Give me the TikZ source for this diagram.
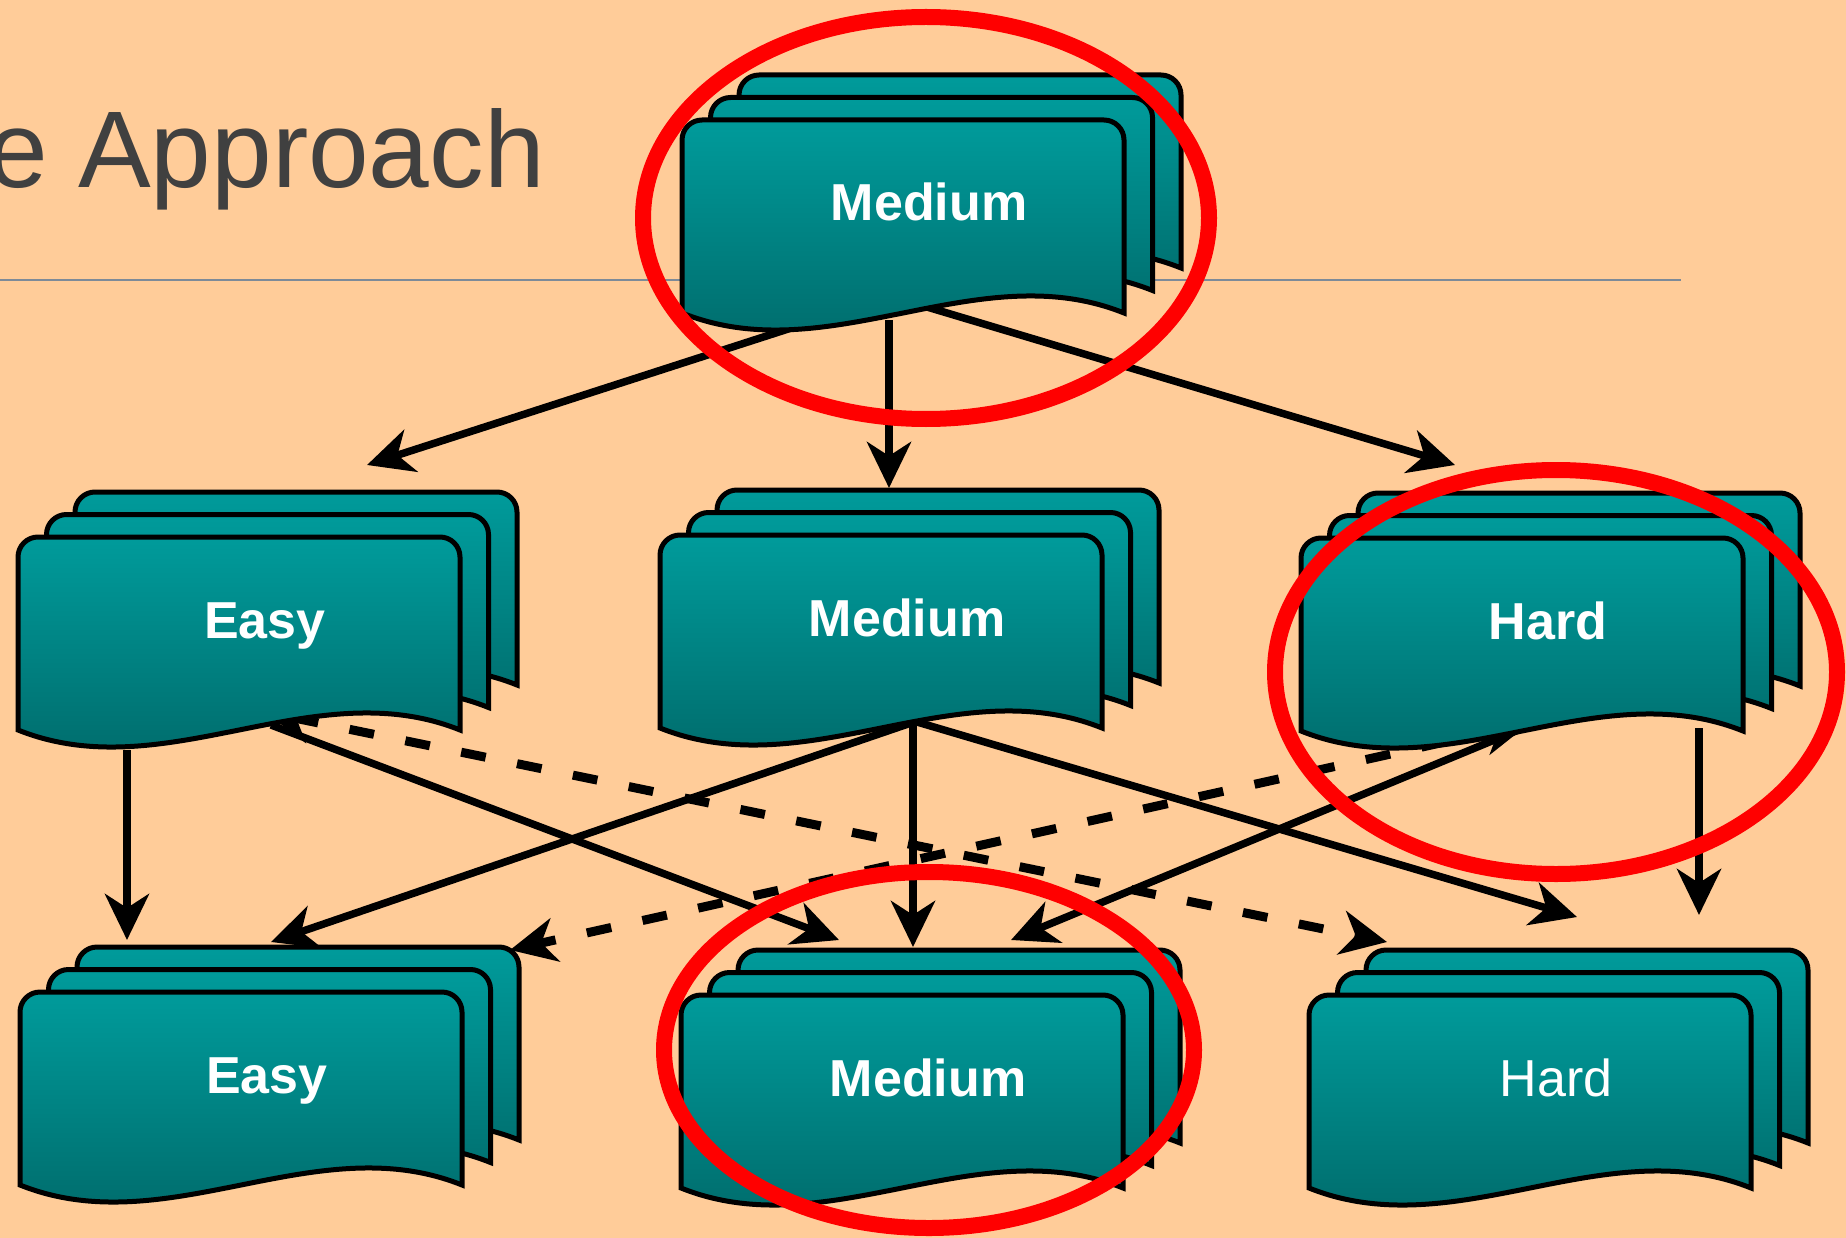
\documentclass[tikz,border=0pt]{standalone}
\usepackage{fontspec}
\setsansfont{Liberation Sans}
\newfontfamily\titlefont{Liberation Sans}
\usetikzlibrary{arrows.meta}

\definecolor{peach}{RGB}{255,204,153}
\definecolor{tealtop}{RGB}{0,155,155}
\definecolor{tealbot}{RGB}{0,102,102}
\definecolor{ink}{RGB}{64,64,64}
\definecolor{rulegray}{RGB}{125,138,152}
\definecolor{ringred}{RGB}{255,0,0}

\pgfdeclarelayer{bg}
\pgfsetlayers{bg,main}

\begin{document}
\begin{tikzpicture}[x=1pt, y=-1pt]

\tikzset{page/.style = {draw, line width=5pt, top color=tealtop, bottom color=tealbot}}
\tikzset{pics/sheet/.style = {code = {
  \path[page] (0,193) -- (0,20) .. controls (0,9) and (9,0) .. (20,0) -- (422,0)
    .. controls (433,0) and (442,9) .. (442,20) -- (442,193)
    .. controls (295,134) and (147,252) .. (0,193) -- cycle;}}}
\tikzset{tag/.style = {text=white, anchor=base, inner sep=0pt}}
\tikzset{heavy/.style = {font=\sffamily\bfseries\fontsize{52}{60}\selectfont}}
\tikzset{light/.style = {font=\sffamily\fontsize{52}{60}\selectfont}}
\tikzset{title/.style = {text=ink, font=\titlefont\fontsize{109}{120}\selectfont, anchor=base east, inner sep=0pt}}
\tikzset{edge/.style = {->, > = {Stealth[length=46pt, width=44pt, inset=14pt]}, line width=7.5pt}}
\tikzset{link/.style = {edge, <->, line width=9pt, dash pattern=on 25pt off 32pt}}
\tikzset{ring/.style = {draw=ringred, line width=16pt}}

\useasboundingbox (0,0) rectangle (1846,1238);

%stacks
\foreach \x/\y/\n/\t/\w in {682/120/mtop/Medium/heavy, 18/537/emid/Easy/heavy,
    660/535/mmid/Medium/heavy, 1301/538/hmid/Hard/heavy, 20/992/ebot/Easy/heavy,
    681/995/mbot/Medium/heavy, 1309/995/hbot/Hard/light}{
  \foreach \k in {2,1,0} \pic at (\x+28.5*\k, \y-22.5*\k) {sheet};
  \node[tag, \w] (\n) at (\x+247, \y+101) {\t};
}

\begin{pgfonlayer}{bg}
\fill[peach] (0,0) rectangle (1846,1238);
\node[title] (ttl) at (545,188) {e Approach};
\draw[rulegray, line width=1.5pt] (0,280) -- (1681,280);

%edges
\draw[edge] ([shift={(-113,99)}]mtop.base) -- ([shift={(102,-173)}]emid.base);
\draw[edge] ([shift={(-40,99)}]mtop.base) -- ([shift={(-18,-148)}]mmid.base);
\draw[edge] ([shift={(-2,86)}]mtop.base) -- ([shift={(-93,-174)}]hmid.base);
\draw[edge] ([shift={(-138,112)}]emid.base) -- ([shift={(-140,-153)}]ebot.base);
\draw[edge] ([shift={(6,87)}]emid.base) -- ([shift={(-89,-156)}]mbot.base);
\draw[edge] ([shift={(4,87)}]mmid.base) -- ([shift={(4,-151)}]ebot.base);
\draw[edge] ([shift={(6,81)}]mmid.base) -- ([shift={(-15,-149)}]mbot.base);
\draw[edge] ([shift={(10,86)}]mmid.base) -- ([shift={(21,-179)}]hbot.base);
\draw[edge] ([shift={(-3,80)}]hmid.base) -- ([shift={(83,-156)}]mbot.base);
\draw[edge] ([shift={(151,89)}]hmid.base) -- ([shift={(143,-181)}]hbot.base);
\draw[link] ([shift={(0,74)}]emid.base) -- ([shift={(-169,-154)}]hbot.base);
\draw[link] ([shift={(-18,84)}]hmid.base) -- ([shift={(243,-143)}]ebot.base);
\end{pgfonlayer}

%highlights
\draw[ring] (926,218) ellipse [x radius=283, y radius=201];
\draw[ring] (1556,672) ellipse [x radius=281, y radius=202];
\draw[ring] (929,1050) ellipse [x radius=265, y radius=178];

\end{tikzpicture}
\end{document}
